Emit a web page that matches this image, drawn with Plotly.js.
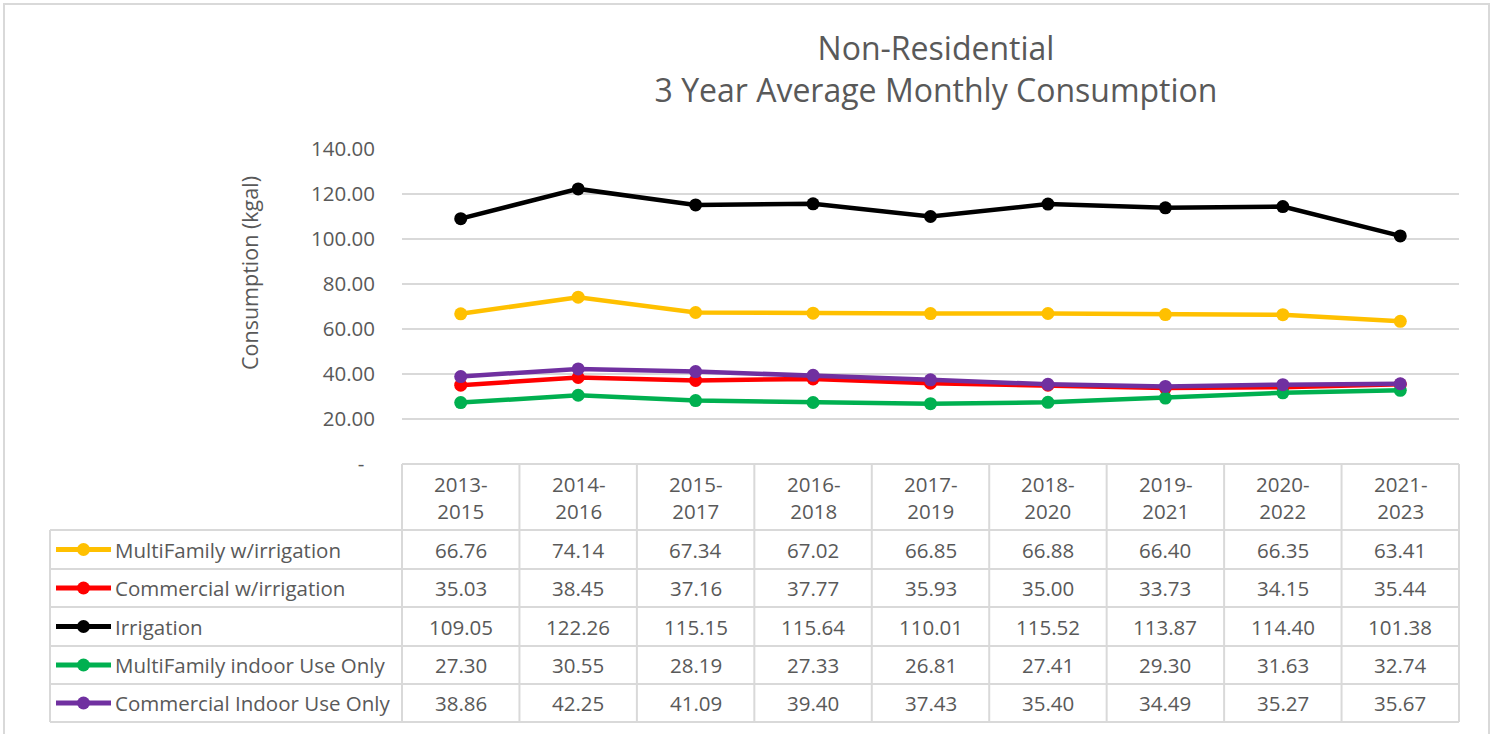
<!DOCTYPE html>
<html>
<head>
<meta charset="utf-8">
<script src="https://cdn.plot.ly/plotly-3.0.1.min.js"></script>
<style>html,body{margin:0;padding:0;background:#fff;}#chart{width:1496px;height:734px;}</style>
</head>
<body>
<div id="chart"></div>
<script>
// ---- data ----
const categories = ["2013-2015","2014-2016","2015-2017","2016-2018","2017-2019","2018-2020","2019-2021","2020-2022","2021-2023"];
const seriesNames = ["MultiFamily w/irrigation","Commercial w/irrigation","Irrigation","MultiFamily indoor Use Only","Commercial Indoor Use Only"];
const multiFamilyIrr = [66.76,74.14,67.34,67.02,66.85,66.88,66.40,66.35,63.41];
const commercialIrr  = [35.03,38.45,37.16,37.77,35.93,35.00,33.73,34.15,35.44];
const irrigation     = [109.05,122.26,115.15,115.64,110.01,115.52,113.87,114.40,101.38];
const multiFamilyIndoor = [27.30,30.55,28.19,27.33,26.81,27.41,29.30,31.63,32.74];
const commercialIndoor  = [38.86,42.25,41.09,39.40,37.43,35.40,34.49,35.27,35.67];
const yTickVals = [0,20,40,60,80,100,120,140];
const yTickText = ["-\u00a0\u00a0","20.00","40.00","60.00","80.00","100.00","120.00","140.00"];

const seriesValues = [multiFamilyIrr, commercialIrr, irrigation, multiFamilyIndoor, commercialIndoor];
const colors = ["#FFC000","#FF0000","#000000","#00B050","#7030A0"];

// ---- geometry (pixels) ----
const W = 1496, H = 734;
const PL = 402, PR = 1459, PT = 149, PB = 464;
const px2x = p => (p - PL) / (PR - PL);
const py2y = p => (PB - p) / (PB - PT);
const FONT = "'Open Sans', Lato, sans-serif";
const GRAY = "#595959";
const GRID = "#d9d9d9";
const TS = 20.5;

const idx = categories.map((c, i) => i);

const traces = seriesValues.map((vals, s) => ({
  type: "scatter", mode: "lines+markers",
  x: idx, y: vals, name: seriesNames[s],
  line: {color: colors[s], width: 4.5},
  marker: {color: colors[s], size: 13},
  showlegend: false, hoverinfo: "x+y+name"
}));

const shapes = [];
const annotations = [];

// outer chart border
shapes.push({type:"rect", xref:"paper", yref:"paper", x0:px2x(4), x1:px2x(1489), y0:py2y(4), y1:py2y(745), line:{color:GRID, width:2}, layer:"below"});

// table grid
const rowEdges = [530, 569, 607, 646, 684, 722];
const colW = (PR - PL) / categories.length;
shapes.push({type:"line", xref:"paper", yref:"paper", x0:px2x(PL), x1:px2x(PR), y0:py2y(PB), y1:py2y(PB), line:{color:GRID, width:2}});
rowEdges.forEach(r => shapes.push({type:"line", xref:"paper", yref:"paper", x0:px2x(50), x1:px2x(PR), y0:py2y(r), y1:py2y(r), line:{color:GRID, width:2}}));
shapes.push({type:"line", xref:"paper", yref:"paper", x0:px2x(50), x1:px2x(50), y0:py2y(530), y1:py2y(722), line:{color:GRID, width:2}});
for (let k = 0; k <= categories.length; k++) {
  const xp = PL + k * colW;
  shapes.push({type:"line", xref:"paper", yref:"paper", x0:px2x(xp), x1:px2x(xp), y0:py2y(PB), y1:py2y(722), line:{color:GRID, width:2}});
}

// header labels
categories.forEach((c, i) => {
  const parts = c.split("-");
  annotations.push({xref:"x", yref:"paper", x:i, y:py2y(497), text: parts[0] + "-<br>" + parts[1], showarrow:false, font:{family:FONT, size:TS, color:GRAY}, align:"center", xanchor:"center", yanchor:"middle"});
});

// rows
seriesNames.forEach((name, s) => {
  const cy = (rowEdges[s] + rowEdges[s+1]) / 2;
  shapes.push({type:"line", xref:"paper", yref:"paper", x0:px2x(56), x1:px2x(111), y0:py2y(cy), y1:py2y(cy), line:{color:colors[s], width:5}});
  shapes.push({type:"circle", xref:"paper", yref:"paper", xsizemode:"pixel", ysizemode:"pixel", xanchor:px2x(83.5), yanchor:py2y(cy), x0:-6.5, x1:6.5, y0:-6.5, y1:6.5, fillcolor:colors[s], line:{color:colors[s], width:0}});
  annotations.push({xref:"paper", yref:"paper", x:px2x(113), y:py2y(cy), text:name, showarrow:false, xanchor:"left", yanchor:"middle", font:{family:FONT, size:TS, color:GRAY}});
  seriesValues[s].forEach((v, i) => {
    annotations.push({xref:"x", yref:"paper", x:i, y:py2y(cy), text:v.toFixed(2), showarrow:false, xanchor:"center", yanchor:"middle", font:{family:FONT, size:TS, color:GRAY}});
  });
});

// y-axis title
annotations.push({xref:"paper", yref:"paper", x:px2x(249), y:py2y(273), text:"Consumption (kgal)", textangle:-90, showarrow:false, xanchor:"center", yanchor:"middle", font:{family:FONT, size:21.5, color:GRAY}});

const layout = {
  width: W, height: H,
  margin: {l: PL, r: W - PR, t: PT, b: H - PB, pad: 0},
  paper_bgcolor: "#fff", plot_bgcolor: "#fff",
  title: {text: "Non-Residential<br>3 Year Average Monthly Consumption", x: 936/W, xanchor: "center", y: 1 - 60/H, yanchor: "middle", font: {family: FONT, size: 32, color: GRAY}},
  xaxis: {range: [-0.5, categories.length - 0.5], showgrid: false, zeroline: false, showticklabels: false, showline: false, ticks: "", fixedrange: true},
  yaxis: {range: [0, 140], tickvals: yTickVals, ticktext: yTickText, showgrid: true, gridcolor: GRID, gridwidth: 1.5, zeroline: false, showline: false, ticks: "", ticklabelstandoff: 26, tickfont: {family: FONT, size: TS, color: GRAY}, fixedrange: true},
  shapes: shapes,
  annotations: annotations,
  showlegend: false
};

Plotly.newPlot("chart", traces, layout, {displayModeBar: false, staticPlot: true});
</script>
</body>
</html>
